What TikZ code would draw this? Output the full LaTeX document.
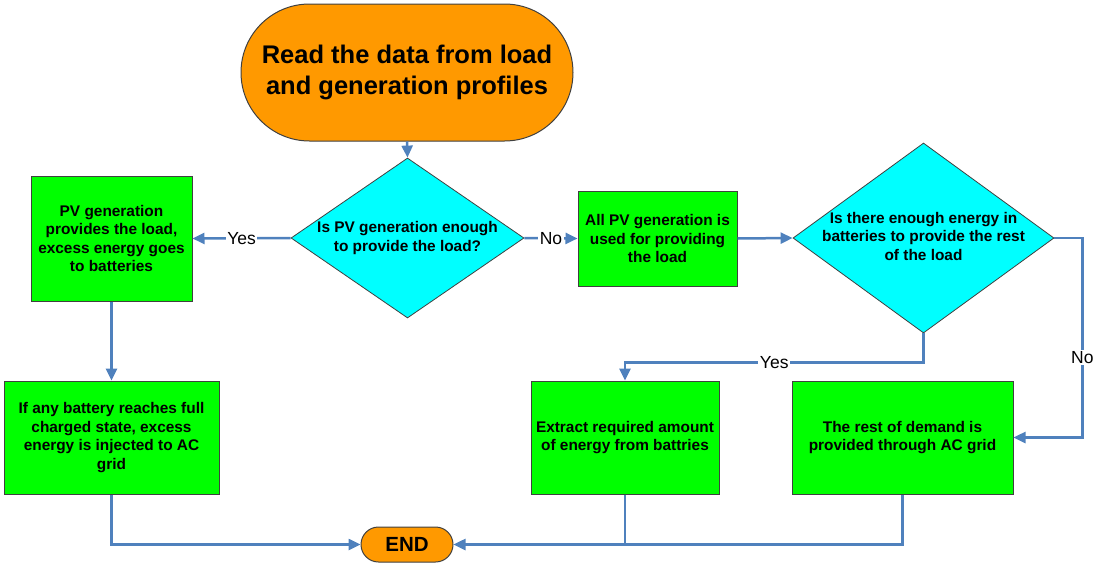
\documentclass[tikz,border=0pt]{standalone}
\usepackage{fontspec}
\setmainfont{Liberation Sans}
\usetikzlibrary{shapes.geometric,shapes.misc,arrows.meta}
\definecolor{termorange}{HTML}{FF9900}
\definecolor{boxgreen}{HTML}{00FF00}
\definecolor{deccyan}{HTML}{00FFFF}
\definecolor{linkblue}{HTML}{4F81BD}
\definecolor{edgegray}{HTML}{404040}
\tikzset{
  every node/.style={font=\fontsize{15.4}{18.6}\selectfont\bfseries, align=center, inner sep=0pt},
  term/.style={rounded rectangle, draw=edgegray, line width=1pt, fill=termorange},
  procbox/.style={rectangle, draw=edgegray, line width=1pt, fill=boxgreen},
  decbox/.style={diamond, draw=edgegray, line width=0.8pt, fill=deccyan},
  link/.style={draw=linkblue, line width=2.5pt},
  arr/.style={link, -{Triangle[length=12pt,width=11pt]}},
  lbl/.style={fill=white, inner sep=1.5pt, font=\fontsize{17.5}{20}\selectfont\mdseries}
}
\newcommand{\zw}[1]{\makebox[0pt]{\begin{tabular}{@{}c@{}}#1\end{tabular}}}
\begin{document}
\begin{tikzpicture}[x=1pt,y=-1pt]
\useasboundingbox (0,0) rectangle (1093,563);

\node[term, minimum width=332pt, minimum height=137pt, font=\fontsize{25.5}{31}\selectfont\bfseries] (start) at (407,72.5) {Read the data from load\\and generation profiles};

\node[decbox, minimum width=233pt, minimum height=160pt] (d1) at (407.5,238) {\zw{Is PV generation enough\\to provide the load?}};

\node[procbox, minimum width=161pt, minimum height=125pt] (b1) at (111.5,238.5) {PV generation\\provides the load,\\excess energy goes\\to batteries};

\node[procbox, minimum width=159pt, minimum height=95pt] (b5) at (657.5,238.5) {All PV generation is\\used for providing\\the load};

\node[decbox, minimum width=261pt, minimum height=190pt] (d2) at (923.5,238) {\zw{Is there enough energy in\\batteries to provide the rest\\of the load}};

\node[procbox, minimum width=215pt, minimum height=113pt] (b2) at (111.5,437.5) {If any battery reaches full\\charged state, excess\\energy is injected to AC\\grid};

\node[procbox, minimum width=188pt, minimum height=113pt] (b3) at (625,437.5) {Extract required amount\\of energy from battries};

\node[procbox, minimum width=221pt, minimum height=113pt] (b4) at (902.5,437.5) {The rest of demand is\\provided through AC grid};

\node[term, minimum width=92pt, minimum height=35pt, font=\fontsize{20.5}{24}\selectfont\bfseries] (end) at (407,544.5) {END};

\draw[arr] (start.south) -- (d1.north);
\draw[arr] (d1.west) -- node[lbl] {Yes} (b1.east);
\draw[arr] (d1.east) -- node[lbl] {No} (b5.west);
\draw[arr] (b5.east) -- (d2.west);
\draw[arr] (d2.south) -- ++(0,29) -| node[lbl, pos=0.25] {Yes} (b3.north);
\draw[arr] (d2.east) -- ++(28,0) |- node[lbl, pos=0.3] {No} (b4.east);
\draw[arr] (b1.south) -- (b2.north);
\draw[arr] (b2.south) |- (end.west);
\draw[arr] (b4.south) |- (end.east);
\draw[link] (b3.south) -- (b3.south |- end.east);
\end{tikzpicture}
\end{document}
